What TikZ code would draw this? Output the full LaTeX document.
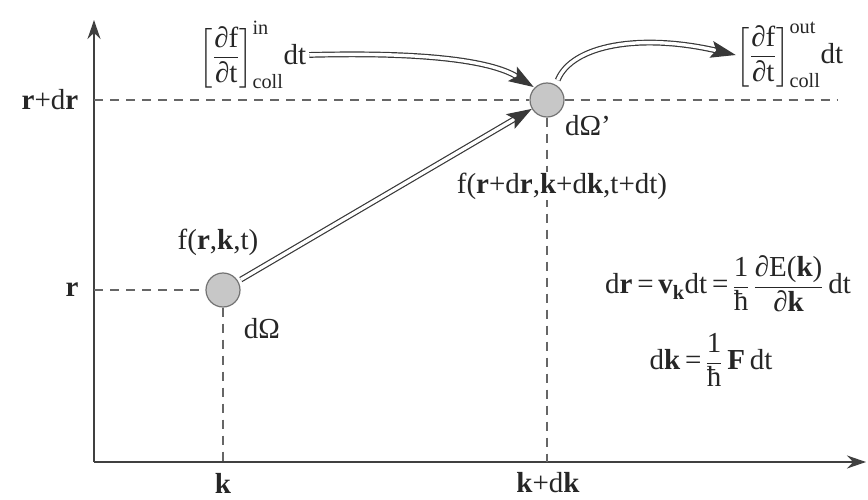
\documentclass[tikz,border=0pt]{standalone}
\usepackage{amsmath}
\usepackage{fontspec}
\setmainfont{Liberation Serif}
\usetikzlibrary{arrows.meta}
\newcommand{\B}[1]{\textbf{#1}}
\newcommand{\pd}{\text{∂}}
\tikzset{
  axisline/.style={draw=black!75, line width=1.8pt, -{Stealth[length=19pt,width=13pt]}},
  guide/.style={draw=black!60, line width=1.1pt, dash pattern=on 9pt off 7pt},
  cell/.style={circle, draw=black!55, fill=black!22, minimum size=34pt, inner sep=0pt, line width=1.2pt},
  dblarrow/.style={draw=black!78, line width=1.2pt, double=white, double distance=3.4pt,
    -{Stealth[length=25pt,width=17pt,inset=5pt]}},
  lbl/.style={inner sep=1pt, text=black!85},
}
\begin{document}
\begin{tikzpicture}[x=1pt,y=-1pt,font=\fontsize{29}{34}\selectfont]
\useasboundingbox (0,0) rectangle (868,500);
% axes
\coordinate (O) at (94,462);
\coordinate (ytip) at (94,20);
\coordinate (xtip) at (866,462);
\draw[axisline] (O) -- (ytip);
\draw[axisline] (O) -- (xtip);
% axis points
\coordinate (ar) at (94,290);
\coordinate (ardr) at (94,100);
\coordinate (ak) at (223,462);
\coordinate (akdk) at (547,462);
\coordinate (rend) at (838,100);
% cells
\node[cell] (c1) at (223,290) {};
\node[cell] (c2) at (547,100) {};
% guides
\draw[guide] (ar) -- (c1.west);
\draw[guide] (ardr) -- (c2.west);
\draw[guide] (c2.east) -- (rend);
\draw[guide] (c1.south) -- (ak);
\draw[guide] (c2.south) -- (akdk);
% axis labels
\node[lbl] (lr) at (72,290) {\B{r}};
\node[lbl] (lrdr) at (50,100) {\B{r}+d\B{r}};
\node[lbl] (lk) at (223,483) {\B{k}};
\node[lbl] (lkdk) at (548,483) {\B{k}+d\B{k}};
% texts
\node[lbl] (f1) at (218,242) {f(\B{r},\B{k},t)};
\node[lbl] (dO) at (262,329) {dΩ};
\node[lbl] (dO2) at (588,126) {dΩ'};
\node[lbl, fill=white] (f2) at (562,186) {f(\B{r}+d\B{r},\B{k}+d\B{k},t+dt)};
% collision terms
\node[lbl] (cin) at (253,55) {$\left[\dfrac{\pd\text{f}}{\pd\text{t}}\right]^{\text{in}}_{\text{coll}}$dt};
\node[lbl] (cout) at (790,55) {$\left[\dfrac{\pd\text{f}}{\pd\text{t}}\right]^{\text{out}}_{\text{coll}}$dt};
% equations
\node[lbl] (eq1) at (728,284) {d\B{r}\,=\,\B{v}$_{\text{\B{k}}}$dt\,=$\,\dfrac{\text{1}}{\text{ħ}}\,\dfrac{\text{∂E(\B{k})}}{\text{∂\B{k}}}$\,dt};
\node[lbl] (eq2) at (711,360) {d\B{k}\,=$\,\dfrac{\text{1}}{\text{ħ}}$\,\B{F}\,dt};
% arrows
\draw[dblarrow, shorten <=3pt] (c1) -- (c2);
\draw[dblarrow, shorten <=2pt, shorten >=1pt] (cin.east) .. controls (420,52) and (490,60) .. (c2.north west);
\draw[dblarrow, shorten <=5pt] (c2.60) .. controls (572,45) and (640,33) .. (cout.west);
\end{tikzpicture}
\end{document}
